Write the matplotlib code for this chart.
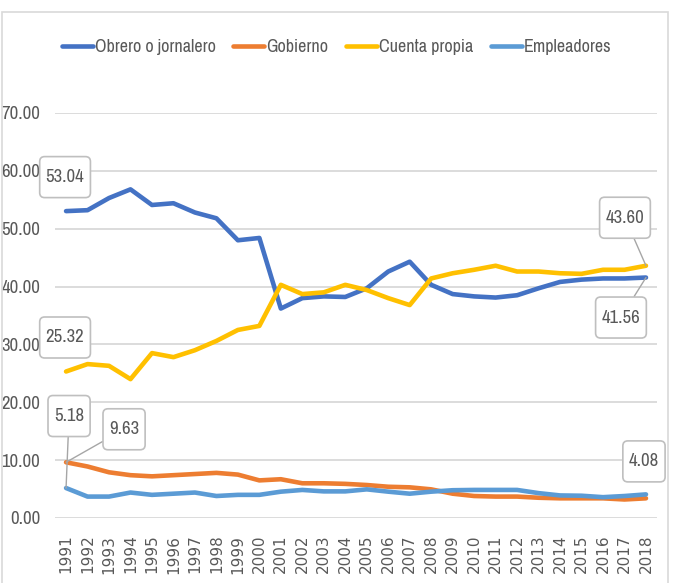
import matplotlib
matplotlib.use("Agg")
import matplotlib.pyplot as plt
from matplotlib.patches import Rectangle, BoxStyle
from matplotlib import font_manager as fm

years = list(range(1991, 2019))
obrero = [53.04, 53.2, 55.3, 56.8, 54.1, 54.4, 52.8, 51.8, 48.0, 48.4, 36.2, 38.0, 38.3, 38.2,
          39.7, 42.6, 44.3, 40.3, 38.7, 38.3, 38.1, 38.5, 39.7, 40.8, 41.2, 41.4, 41.4, 41.56]
gobierno = [9.63, 8.9, 7.9, 7.4, 7.2, 7.4, 7.6, 7.8, 7.5, 6.5, 6.7, 6.0, 6.0, 5.9,
            5.7, 5.4, 5.3, 4.95, 4.2, 3.8, 3.7, 3.7, 3.5, 3.4, 3.4, 3.4, 3.2, 3.4]
cuenta = [25.32, 26.6, 26.3, 24.0, 28.5, 27.8, 29.0, 30.6, 32.5, 33.2, 40.3, 38.7, 39.0, 40.3,
          39.4, 38.0, 36.8, 41.4, 42.3, 42.9, 43.6, 42.6, 42.6, 42.3, 42.2, 42.9, 42.9, 43.60]
empleadores = [5.18, 3.7, 3.7, 4.4, 4.0, 4.2, 4.4, 3.8, 4.0, 4.0, 4.55, 4.85, 4.6, 4.6,
               4.95, 4.55, 4.2, 4.55, 4.8, 4.85, 4.85, 4.85, 4.3, 3.9, 3.85, 3.6, 3.8, 4.08]
series_names = ["Obrero o jornalero", "Gobierno", "Cuenta propia", "Empleadores"]
y_ticks = [0, 10, 20, 30, 40, 50, 60, 70]

colors = ["#4472C4", "#ED7D31", "#FFC000", "#5B9BD5"]
gray_txt = "#595959"

# pick a condensed / narrow face if one is installed
narrow_path = None
cands = []
for f in fm.fontManager.ttflist:
    nm = f.name
    st = f.stretch
    is_narrow = ("Narrow" in nm or "Condensed" in nm or
                 (isinstance(st, str) and "condensed" in st) or
                 (isinstance(st, (int, float)) and st < 500))
    if is_narrow and f.style == "normal":
        w = f.weight if isinstance(f.weight, (int, float)) else 400
        cands.append((abs(w - 400), nm, f.fname))
cands.sort()
if cands:
    narrow_path = cands[0][2]

def fp(size):
    if narrow_path:
        return fm.FontProperties(fname=narrow_path, size=size)
    return fm.FontProperties(family="Liberation Sans", size=size * 0.85)

def label_box(x0, y0, width, height, mutation_size):
    padx, pady = 6.0, 12.5
    rs = 5.0 / max(mutation_size, 1e-6)
    return BoxStyle.Round(pad=0, rounding_size=rs)(x0 - padx, y0 - pady,
                                                   width + 2 * padx, height + 2 * pady, mutation_size)

fig = plt.figure(figsize=(6.73, 5.83), dpi=100)
fig.patches.append(Rectangle((0.003, -0.05), 0.9896, 1.029, transform=fig.transFigure,
                             fill=False, edgecolor="#d9d9d9", lw=1.2))
ax = fig.add_axes([0.0822, 0.1115, 0.8936, 0.6947])

x = list(range(len(years)))
handles = []
for vals, c, name in zip([obrero, gobierno, cuenta, empleadores], colors, series_names):
    h, = ax.plot(x, vals, color=c, lw=3.3, solid_joinstyle="round", solid_capstyle="round", label=name)
    handles.append(h)

ax.set_xlim(-0.5, len(years) - 0.5)
ax.set_ylim(0, 70)
ax.set_yticks(y_ticks)
ax.set_yticklabels([f"{v:.2f}" for v in y_ticks], fontproperties=fp(13.5), color=gray_txt)
ax.set_xticks(x)
ax.set_xticklabels([str(y) for y in years], rotation=90, family="DejaVu Sans", fontsize=11, color=gray_txt)
ax.tick_params(axis="x", length=0, pad=12)
ax.tick_params(axis="y", length=0, pad=11)
ax.grid(axis="y", color="#d9d9d9", lw=1.3)
ax.set_axisbelow(True)
for s in ax.spines.values():
    s.set_visible(False)

leg = fig.legend(handles=handles, loc="center", bbox_to_anchor=(0.5, 0.919), ncol=4, frameon=False,
                 prop=fp(13), handlelength=1.7, handletextpad=0.1, columnspacing=1.0)
for t in leg.get_texts():
    t.set_color(gray_txt)

box = dict(boxstyle=label_box, fc="white", ec="#bfbfbf", lw=1.2)
line = dict(arrowstyle="-", color="#a6a6a6", lw=1.0, shrinkA=0, shrinkB=0)
last = len(years) - 1
notes = [
    (0, obrero[0], (-1, 34), False),
    (0, cuenta[0], (-1, 34), False),
    (last, cuenta[last], (-21, 48), True),
    (last, obrero[last], (-25, -40), True),
    (0, empleadores[0], (3, 72), True),
    (0, gobierno[0], (58, 33), True),
    (last, empleadores[last], (-2, 33), False),
]
for xi, yv, off, lead in notes:
    ax.annotate(f"{yv:.2f}", xy=(xi, yv), xytext=off, textcoords="offset pixels",
                ha="center", va="center", fontproperties=fp(13.5), color=gray_txt,
                bbox=box, arrowprops=line if lead else None, annotation_clip=False, zorder=5)

fig.savefig("out.png", dpi=100)
